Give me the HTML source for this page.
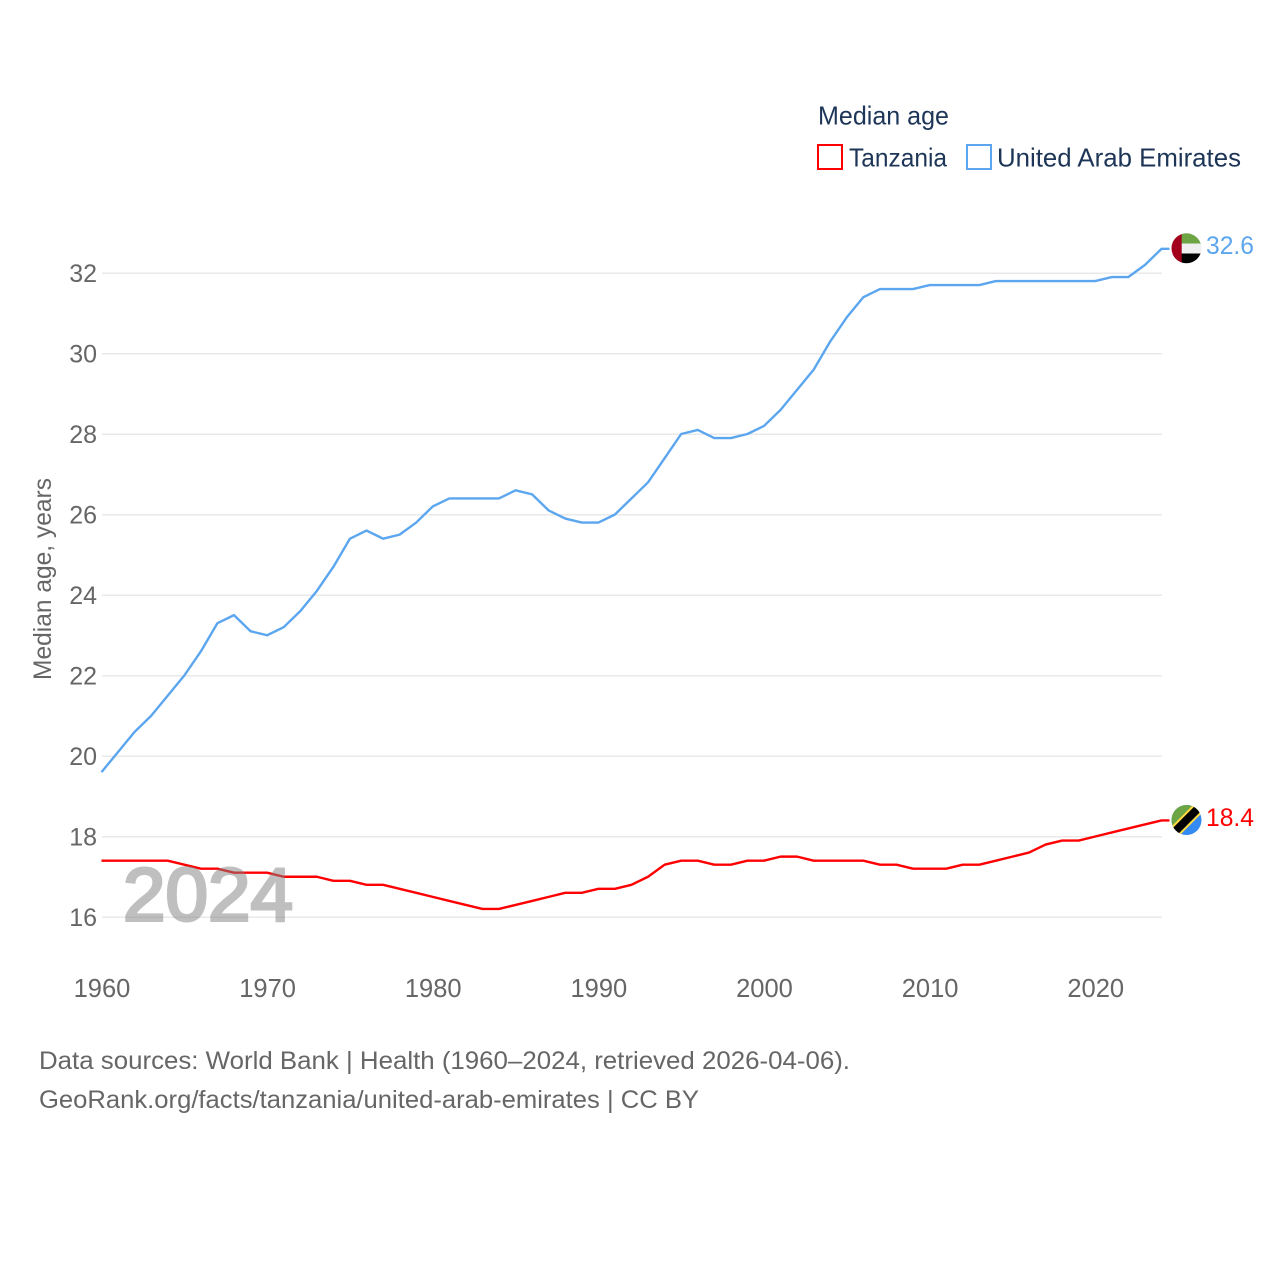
<!DOCTYPE html>
<html lang="en">
<head>
<meta charset="utf-8">
<title>Median age: Tanzania and United Arab Emirates</title>
<style>
  html, body { margin: 0; padding: 0; background: #fff; }
  svg { display: block; font-family: "Liberation Sans", sans-serif; }
</style>
</head>
<body>
<svg id="chart" xmlns="http://www.w3.org/2000/svg" width="1280" height="1280" viewBox="0 0 1280 1280">
  <defs>
    <clipPath id="clip-uae"><circle cx="1186.5" cy="248.3" r="15"/></clipPath>
    <clipPath id="clip-tza"><circle cx="1186.5" cy="820" r="15"/></clipPath>
  </defs>
  <rect width="1280" height="1280" fill="#fff"/>

  <g id="grid"></g>
  <g id="y-ticks"></g>
  <g id="x-ticks"></g>

  <text transform="translate(51 680) rotate(-90)" font-size="25" fill="#666" textLength="202" lengthAdjust="spacingAndGlyphs">Median age, years</text>

  <g id="series"></g>

  <text x="123" y="920.5" font-size="75" fill="#808080" stroke="#808080" stroke-width="3" opacity="0.5" textLength="170" lengthAdjust="spacingAndGlyphs">2024</text>

  <g clip-path="url(#clip-uae)">
    <rect x="1171" y="233" width="31" height="10.5" fill="#6da544"/>
    <rect x="1171" y="243.5" width="31" height="10" fill="#f0f0f0"/>
    <rect x="1171" y="253.5" width="31" height="11" fill="#000"/>
    <rect x="1171" y="233" width="10.7" height="31" fill="#a2001d"/>
  </g>
  <g clip-path="url(#clip-tza)">
    <rect x="1171" y="805" width="31" height="30" fill="#338af3"/>
    <polygon points="1171,805 1201.5,805 1171,835" fill="#6da544"/>
    <line x1="1171.5" y1="835" x2="1201.5" y2="805" stroke="#ffda44" stroke-width="12"/>
    <line x1="1171.5" y1="835" x2="1201.5" y2="805" stroke="#000" stroke-width="8"/>
  </g>

  <text x="1206" y="254" font-size="25" fill="#5ba6ef" textLength="48" lengthAdjust="spacingAndGlyphs">32.6</text>
  <text x="1206" y="826" font-size="25" fill="#ff0000" textLength="48" lengthAdjust="spacingAndGlyphs">18.4</text>

  <g>
    <text x="818" y="124.5" font-size="26" fill="#1d3557" textLength="131" lengthAdjust="spacingAndGlyphs">Median age</text>
    <g>
      <rect x="818" y="145" width="24" height="24" fill="none" stroke="#ff0000" stroke-width="2"/>
      <text x="849" y="166.5" font-size="26" fill="#1d3557" textLength="98" lengthAdjust="spacingAndGlyphs">Tanzania</text>
    </g>
    <g>
      <rect x="967" y="145" width="24" height="24" fill="none" stroke="#5ba6ef" stroke-width="2"/>
      <text x="997" y="166.5" font-size="26" fill="#1d3557" textLength="244" lengthAdjust="spacingAndGlyphs">United Arab Emirates</text>
    </g>
  </g>

  <text x="39" y="1069" font-size="25" fill="#666" textLength="811" lengthAdjust="spacingAndGlyphs">Data sources: World Bank | Health (1960–2024, retrieved 2026-04-06).</text>
  <text x="39" y="1108" font-size="25" fill="#666" textLength="660" lengthAdjust="spacingAndGlyphs">GeoRank.org/facts/tanzania/united-arab-emirates | CC BY</text>
</svg>

<script>
const years = [1960,1961,1962,1963,1964,1965,1966,1967,1968,1969,1970,1971,1972,1973,1974,1975,1976,1977,1978,1979,1980,1981,1982,1983,1984,1985,1986,1987,1988,1989,1990,1991,1992,1993,1994,1995,1996,1997,1998,1999,2000,2001,2002,2003,2004,2005,2006,2007,2008,2009,2010,2011,2012,2013,2014,2015,2016,2017,2018,2019,2020,2021,2022,2023,2024];
const tanzaniaValues = [17.4,17.4,17.4,17.4,17.4,17.3,17.2,17.2,17.1,17.1,17.1,17.0,17.0,17.0,16.9,16.9,16.8,16.8,16.7,16.6,16.5,16.4,16.3,16.2,16.2,16.3,16.4,16.5,16.6,16.6,16.7,16.7,16.8,17.0,17.3,17.4,17.4,17.3,17.3,17.4,17.4,17.5,17.5,17.4,17.4,17.4,17.4,17.3,17.3,17.2,17.2,17.2,17.3,17.3,17.4,17.5,17.6,17.8,17.9,17.9,18.0,18.1,18.2,18.3,18.4];
const uaeValues = [19.6,20.1,20.6,21.0,21.5,22.0,22.6,23.3,23.5,23.1,23.0,23.2,23.6,24.1,24.7,25.4,25.6,25.4,25.5,25.8,26.2,26.4,26.4,26.4,26.4,26.6,26.5,26.1,25.9,25.8,25.8,26.0,26.4,26.8,27.4,28.0,28.1,27.9,27.9,28.0,28.2,28.6,29.1,29.6,30.3,30.9,31.4,31.6,31.6,31.6,31.7,31.7,31.7,31.7,31.8,31.8,31.8,31.8,31.8,31.8,31.8,31.9,31.9,32.2,32.6];
const yTickLabels = [16,18,20,22,24,26,28,30,32];
const xTickLabels = [1960,1970,1980,1990,2000,2010,2020];

const NS = 'http://www.w3.org/2000/svg';
const xScale = year => 101.5 + (year - 1960) * (1161.5 - 101.5) / 64;
const yScale = value => 917 - (value - 16) * (917 - 273) / 16;

const gridGroup = document.getElementById('grid');
const yTickGroup = document.getElementById('y-ticks');
const xTickGroup = document.getElementById('x-ticks');
const seriesGroup = document.getElementById('series');

yTickLabels.forEach(tick => {
  const line = document.createElementNS(NS, 'line');
  line.setAttribute('x1', 102);
  line.setAttribute('x2', 1162);
  line.setAttribute('y1', yScale(tick) + 0.3);
  line.setAttribute('y2', yScale(tick) + 0.3);
  line.setAttribute('stroke', '#e9e9e9');
  line.setAttribute('stroke-width', 1.5);
  
  
  gridGroup.appendChild(line);

  const label = document.createElementNS(NS, 'text');
  label.setAttribute('x', 97);
  label.setAttribute('y', yScale(tick) + 9);
  label.setAttribute('text-anchor', 'end');
  label.setAttribute('font-size', 25);
  label.setAttribute('fill', '#666');
  
  
  label.textContent = tick;
  yTickGroup.appendChild(label);
});

xTickLabels.forEach(tick => {
  const label = document.createElementNS(NS, 'text');
  label.setAttribute('x', xScale(tick) + 0.5);
  label.setAttribute('y', 997);
  label.setAttribute('text-anchor', 'middle');
  label.setAttribute('font-size', 25.5);
  label.setAttribute('fill', '#666');
  
  
  label.textContent = tick;
  xTickGroup.appendChild(label);
});

function pathFor(values) {
  const points = values.map((value, i) => xScale(years[i]).toFixed(2) + ',' + yScale(value).toFixed(2));
  const lastValue = values[values.length - 1];
  points.push((xScale(years[years.length - 1]) + 8).toFixed(2) + ',' + yScale(lastValue).toFixed(2));
  return 'M' + points.join('L');
}

const tanzaniaLine = document.createElementNS(NS, 'path');
tanzaniaLine.setAttribute('d', pathFor(tanzaniaValues));
tanzaniaLine.setAttribute('fill', 'none');
tanzaniaLine.setAttribute('stroke', '#ff0000');
tanzaniaLine.setAttribute('stroke-width', 2.4);
tanzaniaLine.setAttribute('stroke-linejoin', 'round');


seriesGroup.appendChild(tanzaniaLine);

const uaeLine = document.createElementNS(NS, 'path');
uaeLine.setAttribute('d', pathFor(uaeValues));
uaeLine.setAttribute('fill', 'none');
uaeLine.setAttribute('stroke', '#5ba6ef');
uaeLine.setAttribute('stroke-width', 2.4);
uaeLine.setAttribute('stroke-linejoin', 'round');


seriesGroup.appendChild(uaeLine);
</script>
</body>
</html>
